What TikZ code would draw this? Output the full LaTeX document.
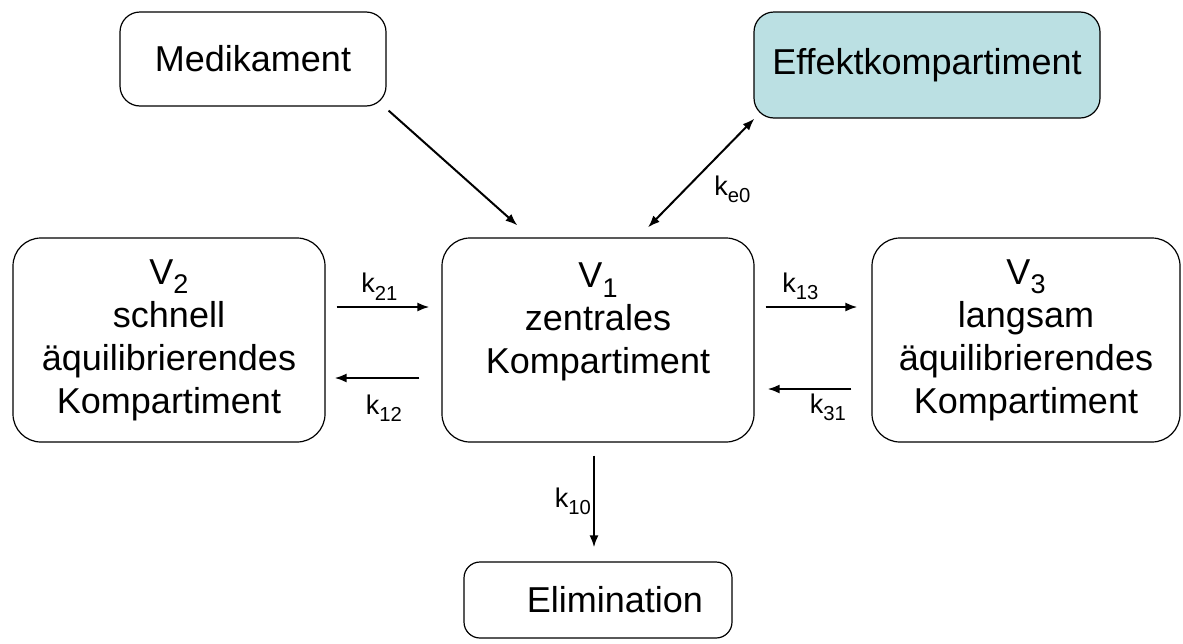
\documentclass[tikz,border=0pt]{standalone}
\usepackage{fontspec}
\setmainfont{Liberation Sans}
\usetikzlibrary{arrows.meta,calc}
\definecolor{ink}{HTML}{000000}
\definecolor{effect}{HTML}{BBE0E3}
\tikzset{
  >={Latex[length=6pt,width=4.5pt]},
  every node/.style={text=ink},
  box/.style={draw=ink,line width=0.6pt,rounded corners=14pt,fill=white,align=center,inner sep=0pt,
    font=\fontsize{18}{21.5}\selectfont},
  compbox/.style={box,minimum width=156pt,minimum height=102pt},
  topbox/.style={box,rounded corners=10pt},
  effbox/.style={topbox,fill=effect},
  flow/.style={->,line width=1pt,draw=ink},
  both/.style={<->,line width=1pt,draw=ink},
  rate/.style={font=\fontsize{13.5}{14}\selectfont,inner sep=2pt},
}
\newcommand{\idx}[1]{\raisebox{-0.5ex}{\scalebox{0.75}{#1}}}

\begin{document}
\begin{tikzpicture}[x=0.5pt,y=0.5pt]
\useasboundingbox (0,0) rectangle (1183,-643);

% top row
\node[topbox,minimum width=133pt,minimum height=47pt] (med) at (253,-59) {\raisebox{-3pt}{Medikament}};
\node[effbox,minimum width=173pt,minimum height=53pt] (eff) at (927,-65) {Effektkompartiment};

% compartments
\node[compbox] (v2) at (169,-340) {V\idx{2}\\schnell\\äquilibrierendes\\Kompartiment};
\node[compbox] (v1) at (598,-340) {V\idx{1}\\zentrales\\Kompartiment\\~};
\node[compbox,minimum width=154pt] (v3) at (1026,-340) {V\idx{3}\\langsam\\äquilibrierendes\\Kompartiment};

% elimination
\node[topbox,rounded corners=8pt,minimum width=134pt,minimum height=38pt] (elim) at (598,-600) {\hspace*{17pt}\raisebox{-4pt}{Elimination}};

% arrows
\draw[flow] ($(med.south east)+(2,-4)$) -- ($(v1.north west)+(76,12)$);
\draw[both] ($(v1.north)+(50,10)$) -- node[rate,anchor=west,pos=0.35,xshift=12pt]{k\idx{e0}} ($(eff.south west)+(1,0)$);
\draw[flow] ($(v2.east)+(11,33)$) -- node[rate,above,pos=0.46,yshift=1pt]{k\idx{21}} ($(v1.west)+(-12,33)$);
\draw[flow] ($(v1.west)+(-22,-38)$) -- node[rate,below,pos=0.42,yshift=-6pt]{k\idx{12}} ($(v2.east)+(9,-38)$);
\draw[flow] ($(v1.east)+(11,33)$) -- node[rate,above,pos=0.38,yshift=1pt]{k\idx{13}} ($(v3.west)+(-14,33)$);
\draw[flow] ($(v3.west)+(-20,-49)$) -- node[rate,below,pos=0.28,yshift=0pt]{k\idx{31}} ($(v1.east)+(13,-49)$);
\draw[flow] ($(v1.south)+(-4,-13)$) -- node[rate,left,inner sep=1pt]{k\idx{10}} ($(elim.north)+(-4,14)$);

\end{tikzpicture}
\end{document}
